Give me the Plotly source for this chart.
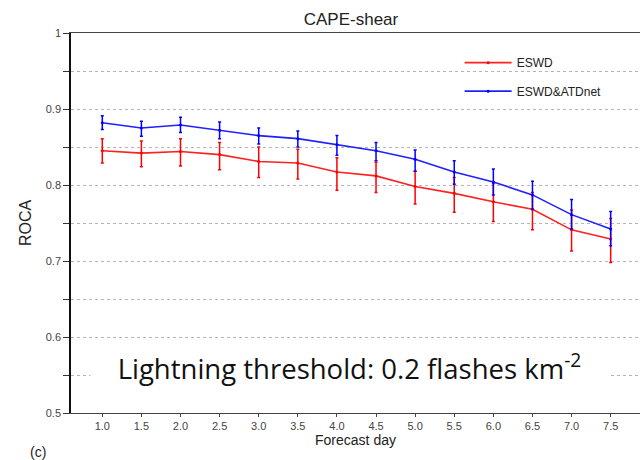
import plotly.graph_objects as go

days = [1.0, 1.5, 2.0, 2.5, 3.0, 3.5, 4.0, 4.5, 5.0, 5.5, 6.0, 6.5, 7.0, 7.5]

eswd = [0.845, 0.842, 0.844, 0.840, 0.831, 0.829, 0.817, 0.812, 0.798, 0.789, 0.778, 0.768, 0.741, 0.729]
eswd_hi = [0.861, 0.858, 0.861, 0.856, 0.850, 0.847, 0.836, 0.830, 0.818, 0.810, 0.802, 0.790, 0.767, 0.756]
eswd_lo = [0.829, 0.824, 0.825, 0.820, 0.810, 0.808, 0.793, 0.790, 0.775, 0.764, 0.752, 0.741, 0.713, 0.698]

atd = [0.882, 0.875, 0.879, 0.872, 0.865, 0.861, 0.853, 0.845, 0.834, 0.817, 0.804, 0.787, 0.761, 0.742]
atd_hi = [0.891, 0.884, 0.889, 0.883, 0.875, 0.871, 0.865, 0.856, 0.846, 0.832, 0.821, 0.805, 0.781, 0.765]
atd_lo = [0.873, 0.864, 0.869, 0.861, 0.854, 0.850, 0.839, 0.832, 0.818, 0.801, 0.787, 0.768, 0.742, 0.720]

x_ticks = [1.0, 1.5, 2.0, 2.5, 3.0, 3.5, 4.0, 4.5, 5.0, 5.5, 6.0, 6.5, 7.0, 7.5]
y_ticks = [0.5, 0.6, 0.7, 0.8, 0.9, 1.0]
y_ticktext = ["0.5", "0.6", "0.7", "0.8", "0.9", "1"]
y_minor = [0.55, 0.65, 0.75, 0.85, 0.95]

FONT = "Liberation Sans, Arial, sans-serif"


def err(vals, hi, lo, color):
    return dict(type="data", symmetric=False,
                array=[h - v for h, v in zip(hi, vals)],
                arrayminus=[v - l for v, l in zip(vals, lo)],
                color=color, thickness=1.5, width=1.5)


fig = go.Figure()
fig.add_trace(go.Scatter(
    x=days, y=eswd, name="ESWD", mode="lines+markers",
    line=dict(color="#ff2020", width=1.6),
    marker=dict(color="#ff0000", size=3),
    error_y=err(eswd, eswd_hi, eswd_lo, "#ff0000"),
    legend="legend", showlegend=True,
))
fig.add_trace(go.Scatter(
    x=days, y=atd, name="ESWD&ATDnet", mode="lines+markers",
    line=dict(color="#2020ff", width=1.6),
    marker=dict(color="#0000ff", size=3),
    error_y=err(atd, atd_hi, atd_lo, "#0000ff"),
    legend="legend2", showlegend=True,
))

legend_common = dict(font=dict(family=FONT, size=12, color="#222"),
                     bgcolor="rgba(0,0,0,0)", borderwidth=0,
                     xanchor="left", yanchor="middle", itemwidth=47,
                     x=0.683, visible=True)

fig.update_layout(
    width=640, height=460,
    showlegend=True,
    margin=dict(l=71, r=0, t=33, b=47),
    plot_bgcolor="white", paper_bgcolor="white",
    font=dict(family=FONT, color="#333"),
    title=dict(text="CAPE-shear", x=351 / 640, xanchor="center", xref="container",
               y=1 - 19 / 460, yanchor="middle", yref="container",
               font=dict(family=FONT, size=17, color="#222")),
    legend=dict(**legend_common, y=0.922),
    legend2=dict(**legend_common, y=0.847),
    xaxis=dict(range=[0.6, 7.875], tickvals=x_ticks, tickformat=".1f",
               showgrid=False, zeroline=False,
               showline=True, linecolor="#444", linewidth=1.2, mirror=True,
               ticks="outside", ticklen=3, tickcolor="#444",
               tickfont=dict(family=FONT, size=11, color="#444"),
               title=dict(text="Forecast day", standoff=3,
                          font=dict(family=FONT, size=14, color="#222"))),
    yaxis=dict(range=[0.5, 1.0], tickvals=y_ticks, ticktext=y_ticktext,
               showgrid=True, gridcolor="#b5b5b5", griddash="dot", gridwidth=1,
               zeroline=False,
               showline=True, linecolor="#111", linewidth=1.5,
               ticks="outside", ticklen=6, tickcolor="#333",
               tickfont=dict(family=FONT, size=11, color="#444"),
               minor=dict(tickvals=y_minor, ticks="outside", ticklen=6,
                          tickcolor="#333", showgrid=True, gridcolor="#b5b5b5",
                          griddash="dot", gridwidth=1),
               title=dict(text="ROCA", standoff=10,
                          font=dict(family=FONT, size=16, color="#222"))),
    annotations=[
        dict(text="Lightning threshold: 0.2 flashes km<sup>-2</sup>",
             x=0.49, xref="paper", y=0.561, yref="y",
             xanchor="center", yanchor="middle", showarrow=False,
             width=515, bgcolor="white",
             font=dict(family="Open Sans, sans-serif", size=27.5, color="#111")),
        dict(text="(c)", x=(38 - 71) / 569, xref="paper", y=-39 / 380, yref="paper",
             xanchor="center", yanchor="middle", showarrow=False,
             font=dict(family=FONT, size=14, color="#222")),
    ],
)

fig.write_html("out.html")
